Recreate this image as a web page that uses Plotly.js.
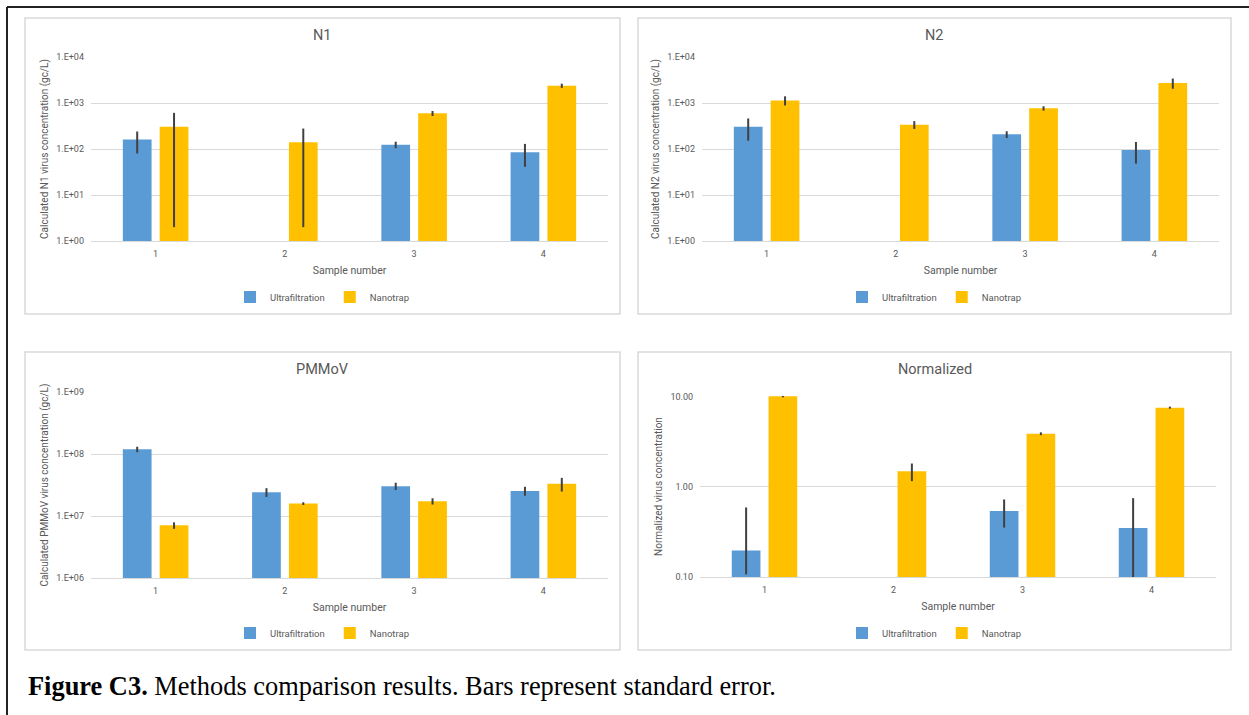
<!DOCTYPE html>
<html>
<head>
<meta charset="utf-8">
<script src="https://cdn.plot.ly/plotly-3.0.1.min.js"></script>
<style>
  html, body { margin: 0; padding: 0; background: #fff; }
  #chart { width: 1249px; height: 715px; }
</style>
</head>
<body>
<div id="chart"></div>
<script>
// ---------- data ----------
const categories = ['1', '2', '3', '4'];
const seriesNames = ['Ultrafiltration', 'Nanotrap'];

const n1Ultra = [160, null, 124, 85];
const n1UltraErr = [80, null, 20, 44];
const n1Nano = [306, 140, 596, 2380];
const n1NanoErr = [304, 138, 74, 250];

const n2Ultra = [306, null, 208, 95];
const n2UltraErr = [155, null, 35, 47];
const n2Nano = [1140, 338, 766, 2720];
const n2NanoErr = [255, 65, 83, 680];

const pmUltra = [1.19e8, 2.42e7, 3.03e7, 2.54e7];
const pmUltraErr = [1.2e7, 3.9e6, 4.1e6, 4.2e6];
const pmNano = [7.06e6, 1.585e7, 1.73e7, 3.30e7];
const pmNanoErr = [0.85e6, 0.8e6, 2.0e6, 8.2e6];

const normUltra = [0.197, null, 0.540, 0.351];
const normUltraErrPlus = [0.395, null, 0.186, 0.40];
const normUltraErrMinus = [0.09, null, 0.186, 0.26];
const normNano = [10.2, 1.49, 3.90, 7.60];
const normNanoErr = [0.3, 0.33, 0.14, 0.2];

const gcTickVals = [1, 10, 100, 1000, 10000];
const gcTickText = ['1.E+00', '1.E+01', '1.E+02', '1.E+03', '1.E+04'];
const pmTickVals = [1e6, 1e7, 1e8, 1e9];
const pmTickText = ['1.E+06', '1.E+07', '1.E+08', '1.E+09'];
const normTickVals = [0.1, 1, 10];
const normTickText = ['0.10', '1.00', '10.00'];

const panelTitles = ['N1', 'N2', 'PMMoV', 'Normalized'];
const yTitles = [
  'Calculated N1 virus concentration (gc/L)',
  'Calculated N2 virus concentration (gc/L)',
  'Calculated PMMoV virus concentration (gc/L)',
  'Normalized virus concentration'
];
const xTitle = 'Sample number';
const caption = '<b>Figure C3.</b> Methods comparison results. Bars represent standard error.';

// ---------- styling / geometry ----------
const W = 1249, H = 715;
const px = v => v / W;
const py = v => 1 - v / H;
const BLUE = '#5B9BD5', GOLD = '#FFC000', ERR = '#404040';
const GRID = '#d9d9d9', TXT = '#595959';
const FONT = 'Liberation Sans Narrow, Roboto, Arial, sans-serif';

const panels = [
  {box: [25, 18, 620, 314], x: [91, 608], y: [57, 241]},
  {box: [638, 18, 1231, 314], x: [702, 1219], y: [57, 241]},
  {box: [25, 352, 620, 650], x: [91, 608], y: [392, 578]},
  {box: [638, 352, 1231, 650], x: [700, 1216], y: [396, 577]}
];

function errBar(plus, minus) {
  const e = {type: 'data', array: plus, visible: true, color: ERR, thickness: 2, width: 0};
  if (minus) { e.symmetric = false; e.arrayminus = minus; }
  return e;
}

const sets = [
  {u: n1Ultra, ue: errBar(n1UltraErr), n: n1Nano, ne: errBar(n1NanoErr)},
  {u: n2Ultra, ue: errBar(n2UltraErr), n: n2Nano, ne: errBar(n2NanoErr)},
  {u: pmUltra, ue: errBar(pmUltraErr), n: pmNano, ne: errBar(pmNanoErr)},
  {u: normUltra, ue: errBar(normUltraErrPlus, normUltraErrMinus), n: normNano, ne: errBar(normNanoErr)}
];

const traces = [];
const layout = {
  width: W, height: H,
  margin: {l: 0, r: 0, t: 0, b: 0},
  paper_bgcolor: '#fff', plot_bgcolor: '#fff',
  barmode: 'group', bargap: 0.43, bargroupgap: 0.22,
  font: {family: FONT, color: TXT, size: 9},
  showlegend: true,
  shapes: [], annotations: []
};

const yRanges = [[0, 4], [0, 4], [6, 9], [-1, 1.01]];
const yTicks = [[gcTickVals, gcTickText], [gcTickVals, gcTickText], [pmTickVals, pmTickText], [normTickVals, normTickText]];

sets.forEach((s, i) => {
  const k = i === 0 ? '' : String(i + 1);
  const lg = i === 0 ? 'legend' : 'legend' + (i + 1);
  traces.push({
    type: 'bar', name: seriesNames[0], x: categories, y: s.u,
    marker: {color: BLUE}, error_y: s.ue, xaxis: 'x' + k, yaxis: 'y' + k, legend: lg,
    hoverinfo: 'x+y'
  });
  traces.push({
    type: 'bar', name: seriesNames[1], x: categories, y: s.n,
    marker: {color: GOLD}, error_y: s.ne, xaxis: 'x' + k, yaxis: 'y' + k, legend: lg,
    hoverinfo: 'x+y'
  });
  const p = panels[i];
  layout['xaxis' + k] = {
    domain: [px(p.x[0]), px(p.x[1])], anchor: 'y' + k, type: 'category',
    showgrid: false, zeroline: false, showline: true, linecolor: GRID, linewidth: 1,
    ticks: '', tickfont: {size: 9, color: TXT, family: FONT}, ticklabelstandoff: 4,
    title: {text: xTitle, font: {size: 10.5, color: TXT, family: FONT}, standoff: 8},
    fixedrange: true
  };
  layout['yaxis' + k] = {
    domain: [py(p.y[1]), py(p.y[0])], anchor: 'x' + k, type: 'log', range: yRanges[i],
    tickvals: yTicks[i][0], ticktext: yTicks[i][1],
    showgrid: true, gridcolor: GRID, gridwidth: 1, zeroline: false, showline: false,
    ticks: '', tickfont: {size: 9, color: TXT, family: FONT}, ticklabelstandoff: 6,
    title: {text: yTitles[i], font: {size: 10, color: TXT, family: FONT}, standoff: 5},
    fixedrange: true
  };
  layout[lg] = {
    orientation: 'h', x: px((p.box[0] + p.box[2]) / 2), xanchor: 'center',
    y: py(p.box[3] - 17), yanchor: 'middle',
    font: {size: 9.5, color: TXT, family: FONT}, bgcolor: 'rgba(0,0,0,0)',
    itemwidth: 30, tracegroupgap: 0
  };
  layout.shapes.push({
    type: 'rect', xref: 'paper', yref: 'paper',
    x0: px(p.box[0]), x1: px(p.box[2]), y0: py(p.box[3]), y1: py(p.box[1]),
    line: {color: GRID, width: 1.5}, fillcolor: 'rgba(0,0,0,0)', layer: 'below'
  });
  layout.annotations.push({
    xref: 'paper', yref: 'paper', x: px((p.box[0] + p.box[2]) / 2), y: py(p.box[1] + 17),
    text: panelTitles[i], showarrow: false, xanchor: 'center', yanchor: 'middle',
    font: {size: 14.5, color: TXT, family: FONT}
  });
});

// outer frame (left and top edges)
layout.shapes.push({type: 'line', xref: 'paper', yref: 'paper', x0: px(7), x1: px(7), y0: 0, y1: py(7), line: {color: '#222', width: 2}});
layout.shapes.push({type: 'line', xref: 'paper', yref: 'paper', x0: px(7), x1: 1, y0: py(7), y1: py(7), line: {color: '#222', width: 2}});

layout.annotations.push({
  xref: 'paper', yref: 'paper', x: px(26), y: py(686), xanchor: 'left', yanchor: 'middle',
  text: caption, showarrow: false,
  font: {size: 26.4, color: '#000', family: 'Liberation Serif, Times New Roman, serif'}
});

Plotly.newPlot('chart', traces, layout, {displayModeBar: false, staticPlot: true});
</script>
</body>
</html>
